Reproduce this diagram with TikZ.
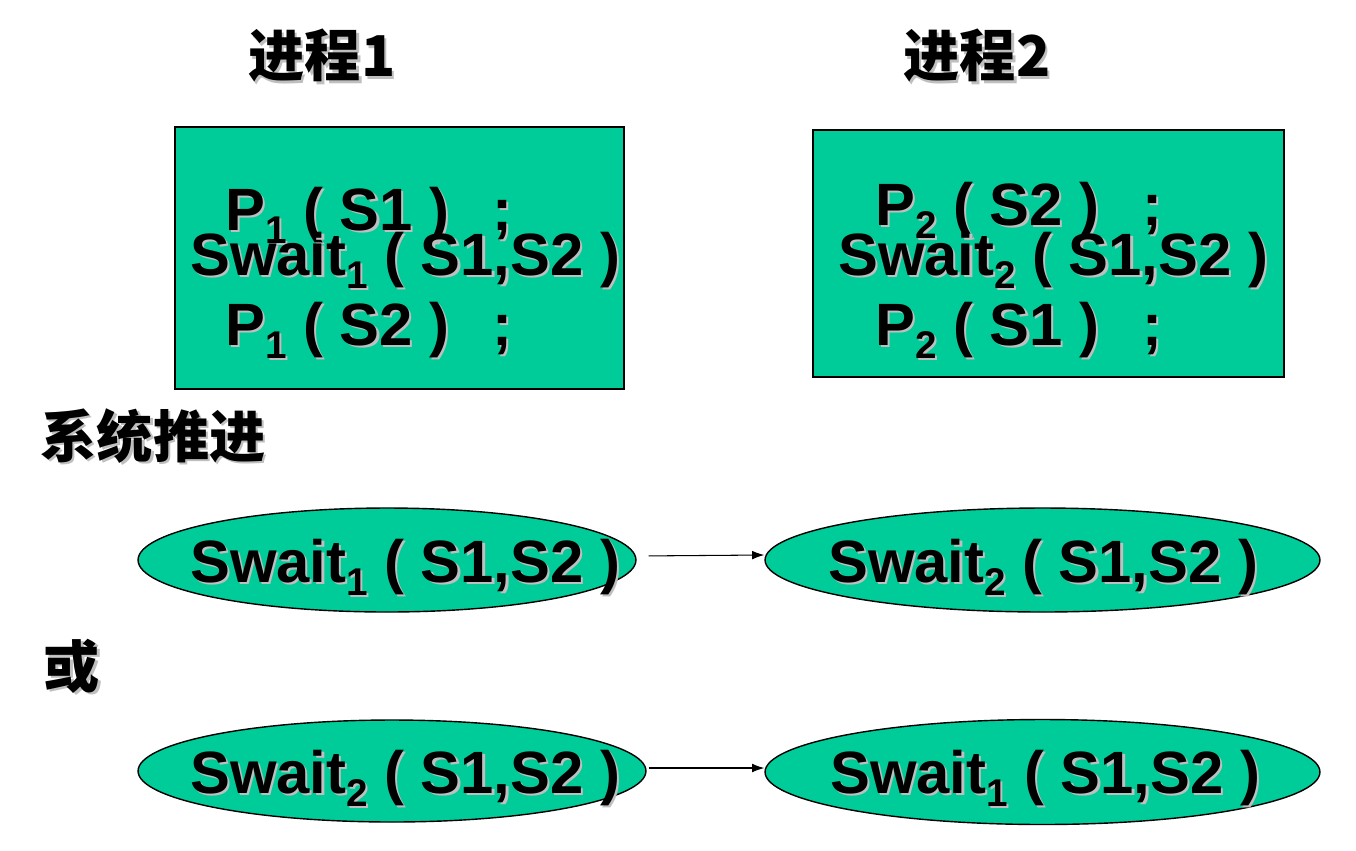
\documentclass[tikz,border=0pt]{standalone}
\usepackage{fontspec}
\setmainfont{Liberation Sans}
\newfontfamily\cjk{Noto Sans CJK SC}
\usetikzlibrary{shapes.geometric,arrows.meta}
\definecolor{boxgreen}{HTML}{00CC99}
% text with a light grey drop shadow
\newcommand{\shtxt}[1]{{\rlap{\kern1.3pt\raisebox{-1.3pt}{\textcolor{black!25}{#1}}}#1}}
\newcommand{\lowidx}[1]{\raisebox{-7.5pt}{\fontsize{22}{22}\selectfont #1}}
\begin{document}
\begin{tikzpicture}[x=0.02cm,y=-0.02cm]
          % Define styles
          \tikzstyle{codebox} = [draw, line width=1.1pt, fill=boxgreen, inner sep=0]
          \tikzstyle{stepell} = [ellipse, draw, line width=0.8pt, fill=boxgreen, inner sep=0]
          \tikzstyle{code} = [anchor=base west, inner sep=0, font=\fontsize{34}{40}\selectfont\bfseries]
          \tikzstyle{title} = [inner sep=0, font=\fontsize{32}{36}\selectfont\cjk\bfseries]
          \tikzstyle{flow} = [-{Latex[length=7pt,width=5pt]}, line width=0.6pt]

          \useasboundingbox (0,0) rectangle (1356,850);

          % Titles
          \node[title] (head1) at (322,57) {\shtxt{进程1}};
          \node[title] (head2) at (977,57) {\shtxt{进程2}};

          % Process 1
          \node[codebox, minimum width=8.98cm, minimum height=5.24cm] (box1) at (399.5,258) {};
          \node[code] (p11) at (225,230) {\shtxt{P\lowidx{1} ( S1 )\ \ \,;}};
          \node[code] (sw1) at (190,275) {\shtxt{Swait\lowidx{1} ( S1,S2 )}};
          \node[code] (p12) at (225,345) {\shtxt{P\lowidx{1} ( S2 )\ \ \,;}};

          % Process 2
          \node[codebox, minimum width=9.42cm, minimum height=4.94cm] (box2) at (1048.5,253.5) {};
          \node[code] (p21) at (875,225) {\shtxt{P\lowidx{2} ( S2 )\ \ \,;}};
          \node[code] (sw2) at (838,275) {\shtxt{Swait\lowidx{2} ( S1,S2 )}};
          \node[code] (p22) at (875,345) {\shtxt{P\lowidx{2} ( S1 )\ \ \,;}};

          % First order
          \node[title] (order) at (153,437) {\shtxt{系统推进}};
          \node[stepell, minimum width=9.96cm, minimum height=2.08cm] (e1) at (387,560) {};
          \node[stepell, minimum width=11.1cm, minimum height=2.08cm] (e2) at (1042.5,560) {};
          \node[code] (t1) at (190,582) {\shtxt{Swait\lowidx{1} ( S1,S2 )}};
          \node[code] (t2) at (828,582) {\shtxt{Swait\lowidx{2} ( S1,S2 )}};
          \draw[flow, shorten <=0.24cm] ([yshift=0.08cm]e1.east) -- ([yshift=0.1cm]e2.west);

          % Second order
          \node[title] (alt) at (72,667) {\shtxt{或}};
          \node[stepell, minimum width=10.16cm, minimum height=2.04cm] (e3) at (392,771) {};
          \node[stepell, minimum width=11.1cm, minimum height=2.1cm] (e4) at (1042.5,772) {};
          \node[code] (t3) at (190,793) {\shtxt{Swait\lowidx{2} ( S1,S2 )}};
          \node[code] (t4) at (830,793) {\shtxt{Swait\lowidx{1} ( S1,S2 )}};
          \draw[flow, shorten <=0.04cm] ([yshift=0.06cm]e3.east) -- ([yshift=0.08cm]e4.west);

     \end{tikzpicture}
\end{document}
